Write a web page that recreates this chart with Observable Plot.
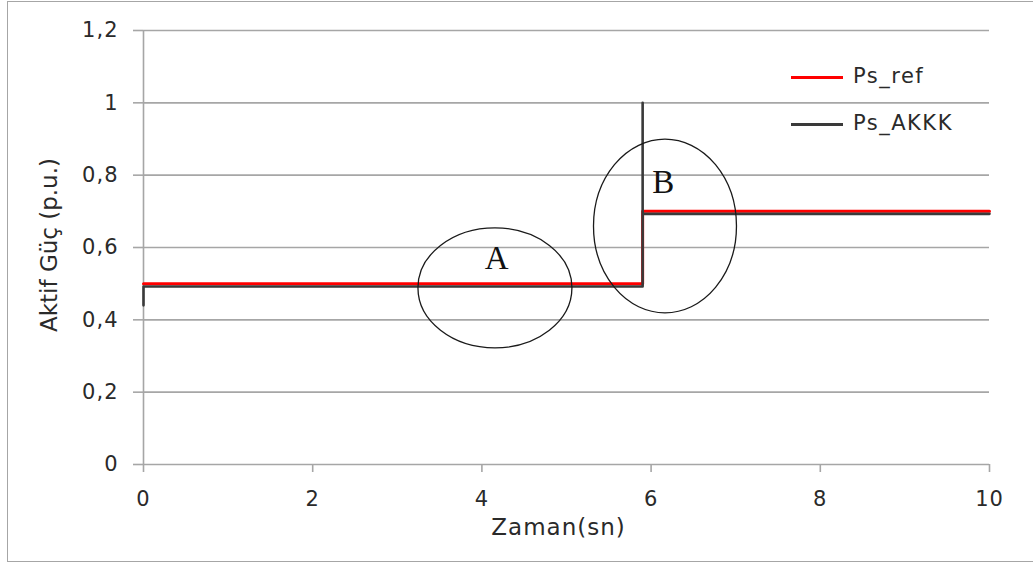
<!DOCTYPE html>
<html><head><meta charset="utf-8">
<script src="https://cdn.jsdelivr.net/npm/d3@7"></script>
<script src="https://cdn.jsdelivr.net/npm/@observablehq/plot@0.6"></script>
<style>
body{margin:0;background:#fff;}
#wrap{position:relative;width:1033px;height:565px;overflow:hidden;}
#border{position:absolute;left:7px;top:1px;width:1040px;height:561px;border:1.5px solid #a6a6a6;box-sizing:border-box;}
#chart{position:absolute;left:0;top:0;}
.legline{position:absolute;height:3px;width:52px;}
.legtxt{position:absolute;font-family:"DejaVu Sans";font-size:21px;letter-spacing:1.5px;color:#2a2a2a;line-height:22px;white-space:nowrap;}
#ylab{position:absolute;left:49px;top:245px;transform:translate(-50%,-50%) rotate(-90deg);font-family:"DejaVu Sans";font-size:23px;color:#2a2a2a;white-space:nowrap;}
svg text{letter-spacing:1px;}
</style></head><body>
<div id="wrap"><div id="border"></div><div id="chart"></div></div>
<script>
// Data
const refTime  = [0, 5.9, 5.9, 10];
const refPower = [0.5, 0.5, 0.7, 0.7];
const akkkTime  = [0, 0, 0.03, 5.9, 5.9, 5.9, 10];
const akkkPower = [0.44, 0.492, 0.492, 0.492, 1.0, 0.693, 0.693];
const xTicks = [0, 2, 4, 6, 8, 10];
const yTicks = [0, 0.2, 0.4, 0.6, 0.8, 1, 1.2];
const seriesNames  = ["Ps_ref", "Ps_AKKK"];
const seriesColors = ["#ff0000", "#3a3a3a"];
// annotation ellipses
const circleLabels = ["A", "B"];
const circleX  = [4.16, 6.17];
const circleY  = [0.487, 0.658];
const circleRx = [0.91, 0.845];
const circleRy = [0.166, 0.24];
const letterX = [4.18, 6.15];
const letterY = [0.57, 0.78];
const xLabel = "Zaman(sn)";
const yLabel = "Aktif Güç (p.u.)";

const refData = refTime.map((t, i) => ({t, p: refPower[i]}));
const akkkData = akkkTime.map((t, i) => ({t, p: akkkPower[i]}));
const fmt = d => String(d).replace(".", ",");
const gridCol = "#a6a6a6";
const font = "DejaVu Sans";

const ellipses = (index, scales) => {
  const g = d3.create("svg:g");
  g.selectAll("ellipse").data(circleLabels).join("ellipse")
    .attr("cx", (d, i) => scales.x(circleX[i]))
    .attr("cy", (d, i) => scales.y(circleY[i]))
    .attr("rx", (d, i) => scales.x(circleX[i] + circleRx[i]) - scales.x(circleX[i]))
    .attr("ry", (d, i) => scales.y(circleY[i] - circleRy[i]) - scales.y(circleY[i]))
    .attr("fill", "none")
    .attr("stroke", "#1a1a1a")
    .attr("stroke-width", 1.3);
  return g.node();
};

const chart = Plot.plot({
  width: 1033,
  height: 565,
  marginLeft: 143,
  marginRight: 44,
  marginTop: 30,
  marginBottom: 101,
  style: {fontFamily: font, background: "transparent", overflow: "visible"},
  x: {domain: [0, 10]},
  y: {domain: [0, 1.2]},
  marks: [
    Plot.ruleY(yTicks, {stroke: gridCol, strokeWidth: 1.6}),
    Plot.ruleX([0], {y1: 0, y2: 1.2, stroke: gridCol, strokeWidth: 1.6}),
    Plot.axisX({ticks: xTicks, tickSize: 8, tickPadding: 19, stroke: gridCol, strokeWidth: 1.6, fill: "#2a2a2a", fontSize: 21, tickFormat: fmt, label: null}),
    Plot.axisY({ticks: yTicks, tickSize: 10, tickPadding: 15, stroke: gridCol, strokeWidth: 1.6, fill: "#2a2a2a", fontSize: 21, tickFormat: fmt, label: null}),
    Plot.line(refData, {x: "t", y: "p", stroke: seriesColors[0], strokeWidth: 3}),
    Plot.line(akkkData, {x: "t", y: "p", stroke: seriesColors[1], strokeWidth: 2.6}),
    ellipses,
    Plot.text(circleLabels, {x: (d, i) => letterX[i], y: (d, i) => letterY[i], text: d => d, fontFamily: "Liberation Serif", fontSize: 33, fill: "#111"}),
    Plot.text([xLabel], {frameAnchor: "bottom", dx: -8, dy: 70, text: d => d, fontSize: 23, fill: "#2a2a2a", fontFamily: font})
  ]
});
document.getElementById("chart").appendChild(chart);

// Legend and y label
const wrap = document.getElementById("wrap");
const yl = document.createElement("div");
yl.id = "ylab";
yl.textContent = yLabel;
wrap.appendChild(yl);
const legY = [77, 124];
seriesNames.forEach((name, i) => {
  const l = document.createElement("div");
  l.className = "legline";
  l.style.left = "791px";
  l.style.top = (legY[i] - 1.5) + "px";
  l.style.background = seriesColors[i];
  wrap.appendChild(l);
  const t = document.createElement("div");
  t.className = "legtxt";
  t.style.left = "853px";
  t.style.top = (legY[i] - 12) + "px";
  t.textContent = name;
  wrap.appendChild(t);
});
</script>
</body></html>
